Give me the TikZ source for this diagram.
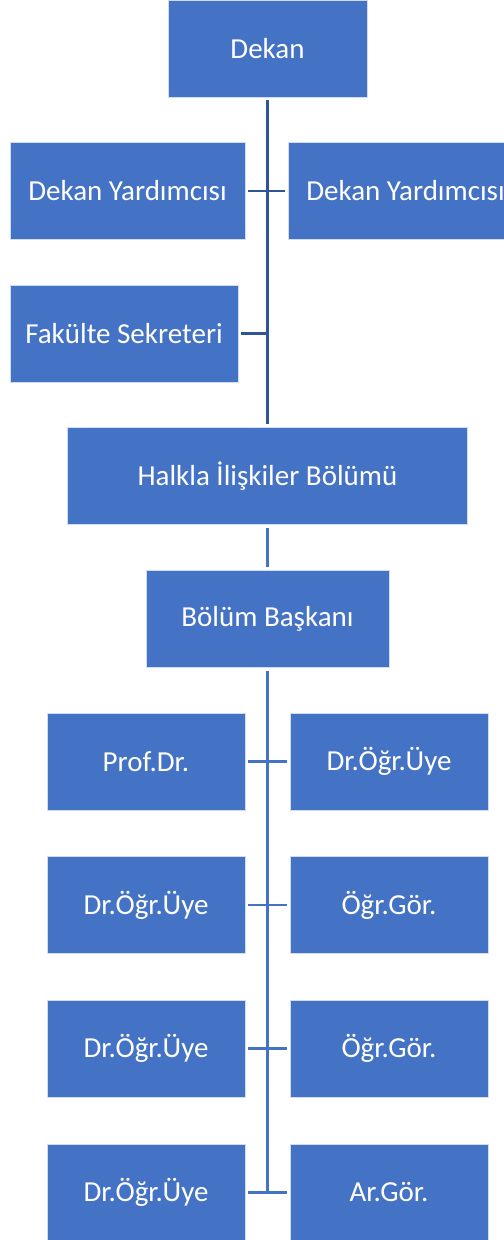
\documentclass[tikz,border=0pt]{standalone}
\usepackage{fontspec}
\setmainfont{Carlito}
\definecolor{boxblue}{RGB}{68,114,196}
\definecolor{linedark}{RGB}{47,85,151}
\usetikzlibrary{positioning}
\tikzset{
	every node/.style={font=\fontsize{29bp}{34bp}\selectfont},
}

\begin{document}
\begin{tikzpicture}[x=1bp,y=-1bp,
		unit/.style={rectangle,fill=boxblue,draw=white!75!boxblue,line width=0.6bp,
			text=white,minimum height=97bp,inner sep=0pt},
		link/.style={line width=2.5bp,shorten <=3bp,shorten >=3bp}]
	\clip (0,0) rectangle (504,1240);
	% upper part: dean's office
	\node[unit,minimum width=199bp] (dekan) at (267.5,48.5) {Dekan};
	\node[unit,minimum width=235bp] (yrdA) at (127.5,191) {Dekan Yardımcısı};
	\node[unit,minimum width=235bp] (yrdB) at (405.5,191) {Dekan Yardımcısı};
	\node[unit,minimum width=228bp] (sekreter) at (124,333.5) {Fakülte Sekreteri};
	\node[unit,minimum width=400bp] (bolumu) at (267.5,476) {Halkla İlişkiler Bölümü};
	\node[unit,minimum width=243bp] (baskan) at (267.5,619) {Bölüm Başkanı};
	% lower part: academic staff
	\node[unit,minimum width=198bp] (prof) at (146,761.5) {Prof.Dr.};
	\node[unit,minimum width=198bp,below=46bp of prof] (uyeA) {Dr.Öğr.Üye};
	\node[unit,minimum width=198bp,below=46bp of uyeA] (uyeB) {Dr.Öğr.Üye};
	\node[unit,minimum width=198bp,below=46bp of uyeB] (uyeC) {Dr.Öğr.Üye};
	\node[unit,minimum width=198bp] (uyeD) at (389,761.5) {Dr.Öğr.Üye};
	\node[unit,minimum width=198bp,below=46bp of uyeD] (gorA) {Öğr.Gör.};
	\node[unit,minimum width=198bp,below=46bp of gorA] (gorB) {Öğr.Gör.};
	\node[unit,minimum width=198bp,below=46bp of gorB] (argor) {Ar.Gör.};

	\draw[link,linedark] (dekan.south) -- (bolumu.north);
	\draw[link,linedark] (yrdA.east) -- (yrdB.west);
	\draw[link,linedark,shorten >=0pt] (sekreter.east) -- (sekreter.east -| dekan.south);
	\draw[link,boxblue] (bolumu.south) -- (baskan.north);
	\draw[link,boxblue,shorten >=0pt] (baskan.south) -- (baskan.south |- uyeC.east);
	\draw[link,boxblue] (prof.east) -- (uyeD.west);
	\draw[link,boxblue] (uyeA.east) -- (gorA.west);
	\draw[link,boxblue] (uyeB.east) -- (gorB.west);
	\draw[link,boxblue] (uyeC.east) -- (argor.west);
\end{tikzpicture}
\end{document}
